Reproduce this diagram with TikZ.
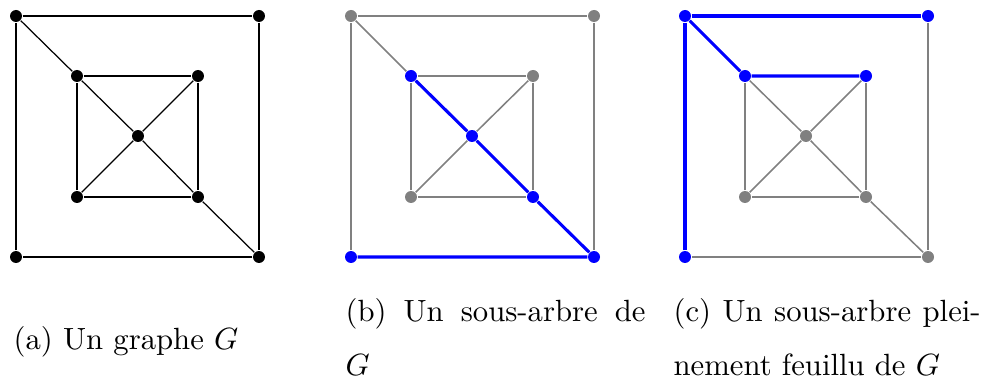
\documentclass[tikz,border=0pt]{standalone}
\usepackage{tikz}
\usetikzlibrary{backgrounds}
\definecolor{treeblue}{RGB}{0,0,255}
\definecolor{restgray}{RGB}{128,128,128}

\begin{document}
\begin{tikzpicture}[
  x=0.3257pt, y=-0.3257pt,
  vtx/.style={circle, fill=black, inner sep=0pt, minimum size=3.9pt},
  vgray/.style={vtx, fill=restgray},
  vblue/.style={vtx, fill=treeblue},
  edge/.style={draw=black, line width=0.4pt},
  grayedge/.style={draw=restgray, line width=0.5pt},
  treeedge/.style={draw=treeblue, line width=1pt},
  subcap/.style={font=\fontsize{10}{17.3}\selectfont, inner sep=0pt, anchor=base west}
]
\useasboundingbox (0,0) rectangle (987,387);

% (a) le graphe
\node[vtx] (a-tl) at (16,16) {};
\node[vtx] (a-tr) at (259,16) {};
\node[vtx] (a-bl) at (16,257) {};
\node[vtx] (a-br) at (259,257) {};
\node[vtx] (a-itl) at (77,76) {};
\node[vtx] (a-itr) at (198,76) {};
\node[vtx] (a-ibl) at (77,197) {};
\node[vtx] (a-ibr) at (198,197) {};
\node[vtx] (a-m) at (138,136) {};

% (b) sous-arbre
\node[vgray] (b-tl) at (351,16) {};
\node[vgray] (b-tr) at (594,16) {};
\node[vblue] (b-bl) at (351,257) {};
\node[vblue] (b-br) at (594,257) {};
\node[vblue] (b-itl) at (411,76) {};
\node[vgray] (b-itr) at (533,76) {};
\node[vgray] (b-ibl) at (411,197) {};
\node[vblue] (b-ibr) at (533,197) {};
\node[vblue] (b-m) at (472,136) {};

% (c) sous-arbre pleinement feuillu
\node[vblue] (c-tl) at (685,16) {};
\node[vblue] (c-tr) at (928,16) {};
\node[vblue] (c-bl) at (685,257) {};
\node[vgray] (c-br) at (928,257) {};
\node[vblue] (c-itl) at (745,76) {};
\node[vblue] (c-itr) at (866,76) {};
\node[vgray] (c-ibl) at (745,197) {};
\node[vgray] (c-ibr) at (866,197) {};
\node[vgray] (c-m) at (806,136) {};

\begin{scope}[on background layer]
  \foreach \u/\v in {tl/tr, tr/br, br/bl, bl/tl, itl/itr, itr/ibr, ibr/ibl, ibl/itl,
                     itl/m, m/ibr, itr/m, m/ibl, tl/itl, br/ibr} {
    \draw[edge] (a-\u) -- (a-\v);
    \draw[grayedge] (b-\u) -- (b-\v);
    \draw[grayedge] (c-\u) -- (c-\v);
  }
  \draw[treeedge] (b-bl) -- (b-br) -- (b-ibr) -- (b-m) -- (b-itl);
  \draw[treeedge] (c-bl) -- (c-tl) -- (c-tr);
  \draw[treeedge] (c-tl) -- (c-itl) -- (c-itr);
\end{scope}

% legendes
\node[subcap] (capa) at (13,350) {(a) Un graphe $G$};
\node[subcap, text width=97.7pt, align=justify] (capb) at (345,322)
  {(b) Un sous-arbre de\break $G$};
\node[subcap, text width=100pt, align=justify] (capc) at (673,322)
  {(c) Un sous-arbre plei-\break nement feuillu de $G$};
\end{tikzpicture}
\end{document}
